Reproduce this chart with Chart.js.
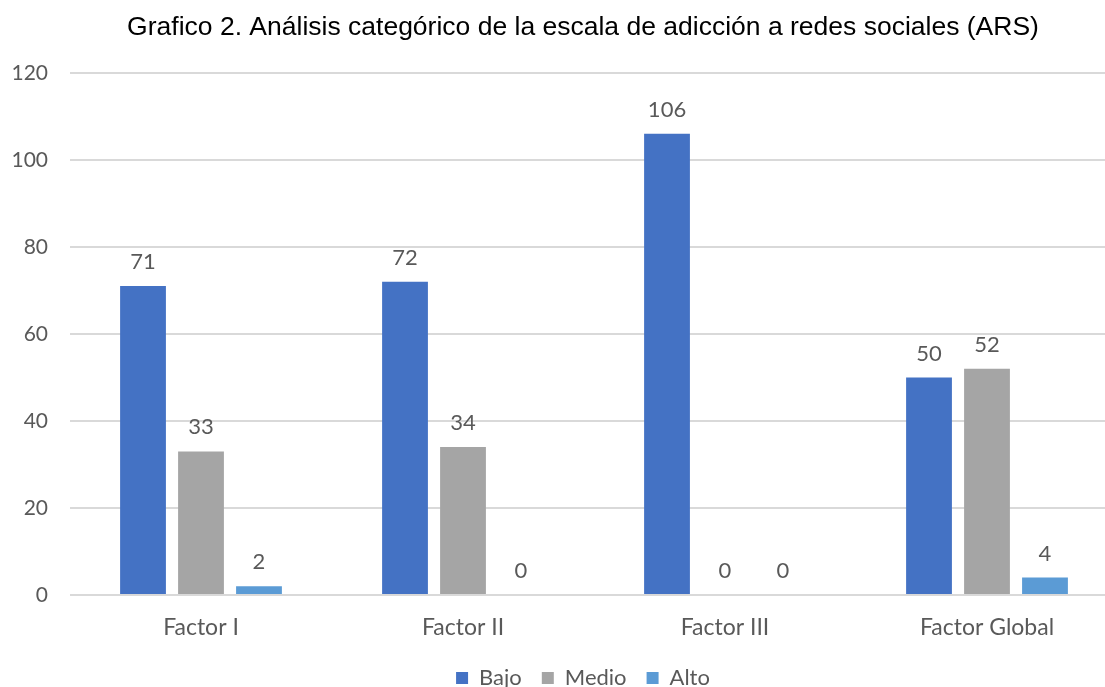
<!DOCTYPE html>
<html>
<head>
<meta charset="utf-8">
<script src="https://cdn.jsdelivr.net/npm/chart.js@4/dist/chart.umd.min.js"></script>
<style>
  html, body { margin: 0; padding: 0; background: #fff; }
  #wrap { width: 1105px; height: 687px; overflow: hidden; }
</style>
</head>
<body>
<div id="wrap"><canvas id="barChart" width="1166" height="687"></canvas></div>
<script>
var categories = ['Factor I', 'Factor II', 'Factor III', 'Factor Global'];
var bajo = [71, 72, 106, 50];
var medio = [33, 34, 0, 52];
var alto = [2, 0, 0, 4];
var yTicks = [0, 20, 40, 60, 80, 100, 120];

var textGray = '#595959';

// value labels above each bar
const barLabels = {
  id: 'barLabels',
  afterDatasetsDraw(chart) {
    const ctx = chart.ctx;
    ctx.save();
    ctx.font = '22px Lato';
    ctx.fillStyle = textGray;
    ctx.textAlign = 'center';
    ctx.textBaseline = 'bottom';
    chart.data.datasets.forEach(function(ds, i) {
      chart.getDatasetMeta(i).data.forEach(function(bar, j) {
        ctx.fillText(ds.data[j], bar.x, bar.y - 13);
      });
    });
    ctx.restore();
  }
};

const ctxBar = document.getElementById('barChart');
barChart = new Chart(ctxBar, {
  type: 'bar',
  data: {
    labels: categories,
    datasets: [
      { label: 'Bajo', data: bajo, backgroundColor: '#4472C4' },
      { label: 'Medio', data: medio, backgroundColor: '#A5A5A5' },
      { label: 'Alto', data: alto, backgroundColor: '#5B9BD5' }
    ]
  },
  options: {
    responsive: false,
    devicePixelRatio: 1,
    animation: false,
    categoryPercentage: 0.664,
    barPercentage: 0.79,
    layout: { padding: { left: 48, right: 48, top: 0, bottom: -12 } },
    plugins: {
      title: {
        display: true,
        text: 'Grafico 2. Análisis categórico de la escala de adicción a redes sociales (ARS)',
        color: '#000',
        font: { family: 'Liberation Sans', size: 26.5, weight: 'normal' },
        padding: { top: 12, bottom: 29 }
      },
      legend: {
        position: 'bottom',
        labels: {
          color: textGray,
          font: { family: 'Lato', size: 22 },
          boxWidth: 12,
          boxHeight: 12,
          padding: 20
        }
      },
      tooltip: { enabled: false }
    },
    scales: {
      x: {
        grid: { display: false },
        border: { display: false },
        ticks: { color: textGray, font: { family: 'Lato', size: 23 }, padding: 11 },
        afterFit: function(axis) { axis.height = 52; }
      },
      y: {
        min: 0,
        max: 120,
        afterBuildTicks: function(axis) {
          axis.ticks = yTicks.map(function(v) { return { value: v }; });
        },
        grid: { color: '#D9D9D9', lineWidth: 2, drawTicks: false },
        border: { display: false },
        ticks: { color: textGray, font: { family: 'Lato', size: 21 }, padding: 22 },
        afterFit: function(axis) {
          axis.width = 22;
          // labels sit left of the narrow axis box, so don't clip them
          axis._computeLabelArea = function() { return null; };
        }
      }
    }
  },
  plugins: [barLabels]
});
</script>
</body>
</html>
